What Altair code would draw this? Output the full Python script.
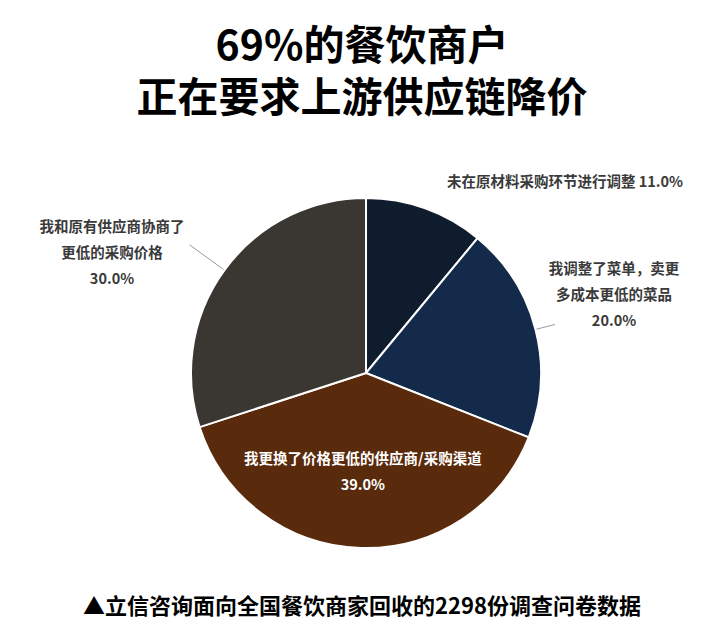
import math

import altair as alt
import pandas as pd

# data
categories = [
    "未在原材料采购环节进行调整",
    "我调整了菜单，卖更多成本更低的菜品",
    "我更换了价格更低的供应商/采购渠道",
    "我和原有供应商协商了更低的采购价格",
]
shares = [11.0, 20.0, 39.0, 30.0]
label_lines = [
    "未在原材料采购环节进行调整 11.0%",
    "我调整了菜单，卖更\n多成本更低的菜品\n20.0%",
    "我更换了价格更低的供应商/采购渠道\n39.0%",
    "我和原有供应商协商了\n更低的采购价格\n30.0%",
]
slice_colors = ["#0f1c2e", "#142a4a", "#5a2a0c", "#3a3733"]
title_lines = ["69%的餐饮商户", "正在要求上游供应链降价"]
footer = "▲立信咨询面向全国餐饮商家回收的2298份调查问卷数据"

W, H = 708, 626
MID_X = 354
CX, CY, R = 358, 365, 175
FONT = "Noto Sans CJK SC"

pie_df = pd.DataFrame({"category": categories, "share": shares, "order": range(len(shares))})

# mid angle of each slice (clockwise from 12 o'clock)
total = sum(shares)
mids = []
acc = 0.0
for s in shares:
    mids.append((acc + s / 2) / total * 2 * math.pi)
    acc += s


def polar(angle, r):
    return CX + r * math.sin(angle), CY - r * math.cos(angle)


pie = alt.Chart(pie_df).mark_arc(
    outerRadius=R, stroke="white", strokeWidth=2
).encode(
    theta=alt.Theta("share:Q", stack=True),
    order=alt.Order("order:Q"),
    color=alt.Color(
        "category:N",
        scale=alt.Scale(domain=categories, range=slice_colors),
        legend=None,
    ),
    x=alt.value(CX),
    y=alt.value(CY),
)

# leader lines for the two side labels (from slice edge outward)
lead = []
for i, r_out in [(1, 195), (3, 218)]:
    x0, y0 = polar(mids[i], R + 1)
    x1, y1 = polar(mids[i], r_out)
    lead.append({"x": x0, "y": y0, "x2": x1, "y2": y1})
lead_df = pd.DataFrame(lead)
leaders = alt.Chart(lead_df).mark_rule(color="#9a9a9a", strokeWidth=1).encode(
    x=alt.X("x:Q", scale=None), y=alt.Y("y:Q", scale=None),
    x2="x2:Q", y2="y2:Q",
)

# label anchors placed relative to slice mid angles
lx, ly = polar(mids[2], 100)
lab_df = pd.DataFrame({
    "text": label_lines,
    "x": [557, 606, lx, 104],
    "y": [175, 262, ly - 13, 220],
    "color": ["#3a3a3a", "#3a3a3a", "#ffffff", "#3a3a3a"],
})
labels = alt.Chart(lab_df).mark_text(
    font=FONT, fontSize=14.5, fontWeight="bold", lineBreak="\n",
    lineHeight=26, baseline="middle", align="center",
).encode(
    x=alt.X("x:Q", scale=None), y=alt.Y("y:Q", scale=None),
    text="text:N", color=alt.Color("color:N", scale=None),
)

title_df = pd.DataFrame({"text": title_lines, "y": [40, 92]})
title = alt.Chart(title_df).mark_text(
    font=FONT, fontSize=41, fontWeight="bold", color="#000000",
    baseline="middle", align="center",
).encode(x=alt.value(MID_X), y=alt.Y("y:Q", scale=None), text="text:N")

foot = alt.Chart(pd.DataFrame({"text": [footer]})).mark_text(
    font=FONT, fontSize=22, fontWeight="bold", color="#000000",
    baseline="middle", align="center",
).encode(x=alt.value(MID_X), y=alt.value(599), text="text:N")

chart = (
    alt.layer(pie, leaders, labels, title, foot)
    .properties(width=W, height=H, padding=0, background="white",
                autosize=alt.AutoSizeParams(type="none"))
    .configure_view(strokeWidth=0, stroke="transparent")
)

chart.save("out.html", embed_options={"renderer": "svg", "actions": False})
